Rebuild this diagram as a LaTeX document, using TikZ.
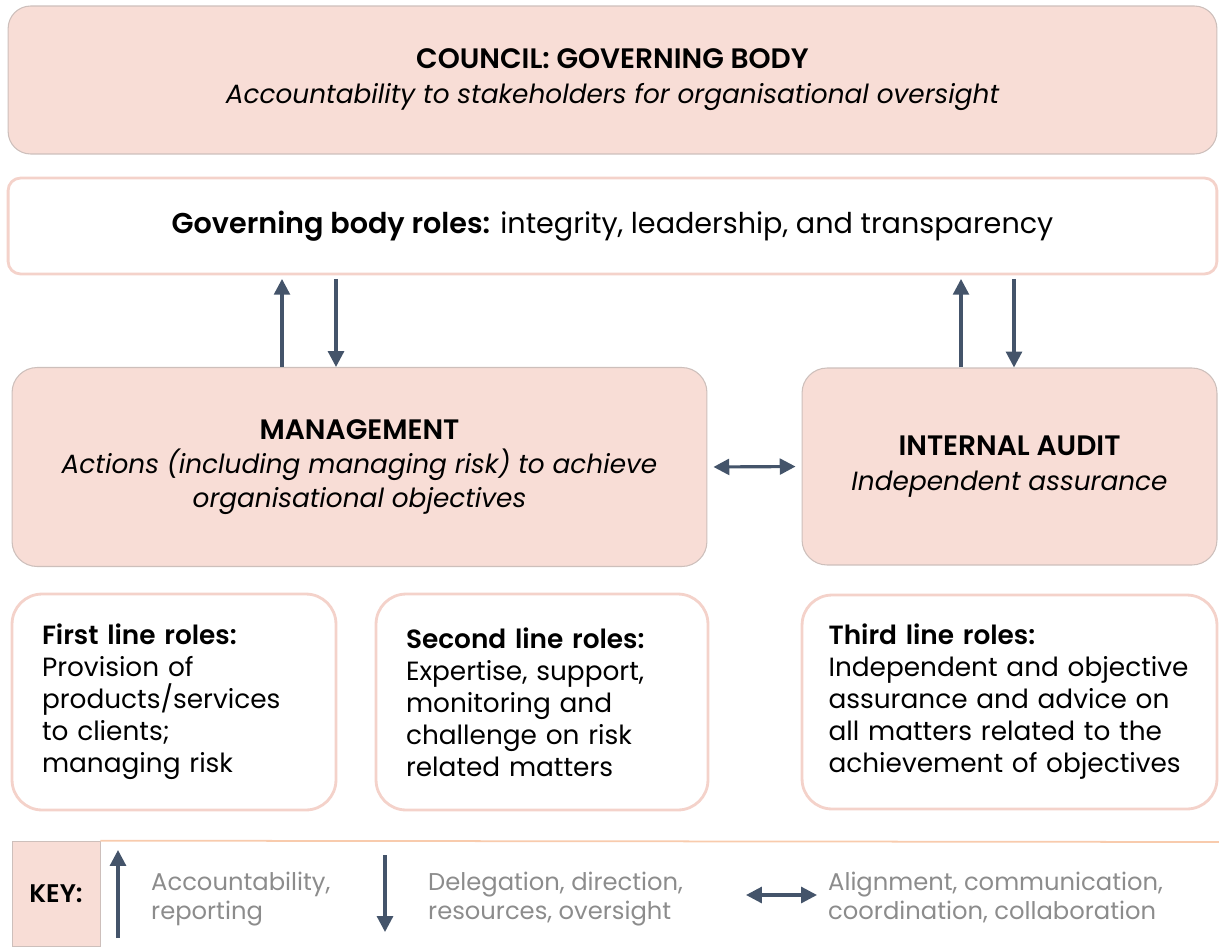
\documentclass[tikz,border=0pt]{standalone}
\usepackage{fontspec}
\setmainfont{Poppins}[BoldFont={Poppins SemiBold}]
\usepackage{tikz}
\usetikzlibrary{arrows.meta, positioning}

\definecolor{pinkfill}{HTML}{F8DDD6}
\definecolor{pinkline}{HTML}{F4D2CA}
\definecolor{edgegray}{HTML}{CDBFBB}
\definecolor{arrowblue}{HTML}{44546A}
\definecolor{keygray}{HTML}{8C8C8C}
\definecolor{keyline}{HTML}{F8CBAD}

\newcommand{\titlefont}{\fontsize{16}{20}\selectfont\bfseries}
\newcommand{\subfont}{\fontsize{15}{20}\selectfont\itshape}

\tikzset{
  pinkbox/.style={draw=edgegray, line width=0.6pt, fill=pinkfill, rounded corners=0.45cm, align=center,
    font=\fontsize{15}{19.5}\selectfont},
  rolebox/.style={draw=pinkline, line width=1.6pt, fill=white, rounded corners=0.6cm, align=left, inner sep=0pt,
    font=\fontsize{15}{18.2}\selectfont},
  flow/.style={draw=arrowblue, line width=1.8pt, -{Triangle[width=9pt,length=9pt]}},
  twoway/.style={flow, {Triangle[width=9pt,length=9pt]}-{Triangle[width=9pt,length=9pt]}},
  keytext/.style={text=keygray, font=\fontsize{13.8}{16.5}\selectfont, align=left, anchor=west},
}

\begin{document}
\begin{tikzpicture}[x=0.02cm, y=-0.02cm]
\useasboundingbox (0,0) rectangle (1219,946);

% Governing body
\node[pinkbox, minimum width=24.18cm, minimum height=2.96cm, font=\fontsize{15}{20}\selectfont] (council) at (612.5,80)
  {\titlefont COUNCIL: GOVERNING BODY\\ \subfont Accountability to stakeholders for organisational oversight};
\node[draw=pinkline, line width=1.6pt, rounded corners=0.25cm, minimum width=24.18cm, minimum height=1.92cm,
  font=\fontsize{16.3}{19}\selectfont] (gov) at (612.5,226)
  {\textbf{Governing body roles:} integrity, leadership, and transparency};

% Management and internal audit
\node[pinkbox, rounded corners=0.5cm, minimum width=13.9cm, minimum height=3.98cm] (mgmt) at (359.5,467)
  {\titlefont MANAGEMENT\\ \subfont Actions (including managing risk) to achieve\\ \subfont organisational objectives};
\node[pinkbox, rounded corners=0.5cm, minimum width=8.3cm, minimum height=3.94cm] (audit) at (1009.5,466.5)
  {\titlefont INTERNAL AUDIT\\ \subfont Independent assurance};

% Three lines
\node[rolebox, minimum width=6.48cm, minimum height=4.32cm, text width=5.28cm] (first) at (174,702)
  {\textbf{First line roles:}\\ Provision of\\ products/services\\ to clients;\\ managing risk};
\node[rolebox, minimum width=6.64cm, minimum height=4.32cm, text width=5.44cm] (second) at (542,702)
  {\textbf{Second line roles:}\\ Expertise, support,\\ monitoring and\\ challenge on risk\\ related matters};
\node[rolebox, minimum width=8.3cm, minimum height=4.28cm, text width=7.24cm] (third) at (1009.5,702)
  {\textbf{Third line roles:}\\ Independent and objective\\ assurance and advice on\\ all matters related to the\\ achievement of objectives};

% Arrows between levels
\draw[flow] (mgmt.north -| 282,0) -- ([yshift=-2pt]gov.south -| 282,0);
\draw[flow] ([yshift=-2pt]gov.south -| 336,0) -- (mgmt.north -| 336,0);
\draw[flow] (audit.north -| 961,0) -- ([yshift=-2pt]gov.south -| 961,0);
\draw[flow] ([yshift=-2pt]gov.south -| 1014,0) -- (audit.north -| 1014,0);
\draw[twoway, shorten <=3.4pt, shorten >=3.4pt] (mgmt.east) -- (audit.west);

% Key
\node[fill=pinkfill, draw=edgegray, line width=0.4pt, minimum width=1.76cm, minimum height=2.1cm,
  font=\fontsize{14.5}{17}\selectfont\bfseries] (key) at (56,893.5) {KEY:};
\draw[keyline, line width=1pt] (key.north east) -- (1219,842);
\coordinate (upbot) at (118,938);
\coordinate (uptop) at (118,850);
\coordinate (dntop) at (385,855);
\coordinate (dnbot) at (385,932);
\coordinate (lrl) at (746,895);
\coordinate (lrr) at (817,895);
\draw[flow] (upbot) -- (uptop);
\draw[flow] (dntop) -- (dnbot);
\draw[twoway] (lrl) -- (lrr);
\node[keytext] (acc) at (145,899) {Accountability,\\ reporting};
\node[keytext] (del) at (422,899) {Delegation, direction,\\ resources, oversight};
\node[keytext] (ali) at (822,897) {Alignment, communication,\\ coordination, collaboration};
\end{tikzpicture}
\end{document}
